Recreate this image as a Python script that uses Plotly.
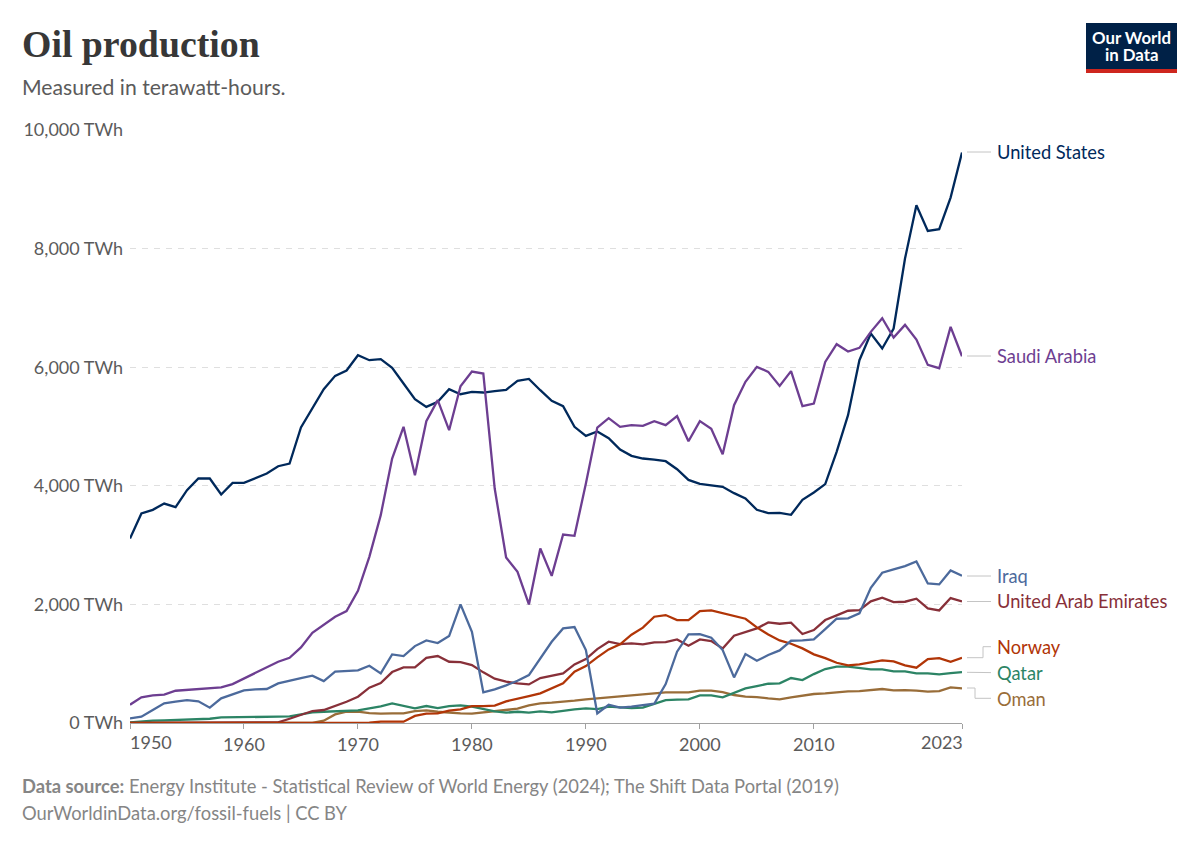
import plotly.graph_objects as go

# Data (TWh per year)

years = list(range(1950, 2024))

united_states = [
    3111, 3533, 3595, 3701, 3640, 3926, 4123, 4123, 3853, 4050,
    4050, 4123, 4207, 4330, 4376, 4983, 5303, 5629, 5854, 5944,
    6202, 6118, 6135, 5989, 5725, 5460, 5331, 5415, 5629, 5545,
    5584, 5573, 5595, 5618, 5770, 5803, 5612, 5432, 5342, 4994,
    4842, 4915, 4803, 4612, 4505, 4460, 4443, 4415, 4280, 4100,
    4033, 4005, 3983, 3876, 3786, 3595, 3539, 3544, 3511, 3764,
    3888, 4028, 4573, 5191, 6118, 6568, 6315, 6652, 7832, 8731,
    8299, 8327, 8861, 9619,
]
saudi_arabia = [
    308, 432, 466, 477, 544, 556, 573, 584, 600, 656,
    752, 848, 943, 1033, 1100, 1275, 1522, 1652, 1792, 1888,
    2230, 2802, 3505, 4460, 4994, 4179, 5090, 5444, 4938, 5680,
    5927, 5893, 3954, 2791, 2549, 2000, 2943, 2482, 3179, 3156,
    4039, 4983, 5140, 4994, 5022, 5011, 5090, 5022, 5174, 4752,
    5090, 4960, 4533, 5359, 5753, 6006, 5921, 5685, 5933, 5342,
    5387, 6090, 6388, 6264, 6326, 6596, 6826, 6500, 6714, 6466,
    6039, 5983, 6680, 6185,
]
iraq = [
    78, 106, 218, 331, 359, 387, 365, 258, 415, 483,
    550, 567, 573, 668, 719, 758, 797, 707, 865, 870,
    887, 966, 837, 1157, 1129, 1297, 1393, 1348, 1466, 2000,
    1539, 516, 567, 634, 713, 809, 1090, 1370, 1595, 1618,
    1230, 162, 308, 258, 275, 297, 325, 657, 1202, 1494,
    1500, 1438, 1230, 769, 1163, 1050, 1146, 1224, 1387, 1393,
    1410, 1584, 1758, 1764, 1848, 2281, 2534, 2590, 2646, 2725,
    2354, 2337, 2573, 2483,
]
uae = [
    0, 0, 0, 0, 0, 0, 0, 0, 0, 0,
    0, 0, 0, 11, 72, 140, 202, 219, 286, 359,
    443, 595, 674, 859, 938, 938, 1100, 1129, 1033, 1028,
    977, 854, 747, 697, 668, 651, 758, 792, 837, 988,
    1078, 1247, 1371, 1331, 1342, 1326, 1359, 1365, 1410, 1303,
    1410, 1382, 1258, 1472, 1534, 1595, 1697, 1674, 1691, 1500,
    1567, 1736, 1815, 1893, 1904, 2051, 2112, 2039, 2045, 2096,
    1933, 1899, 2107, 2051,
]
norway = [
    0, 0, 0, 0, 0, 0, 0, 0, 0, 0,
    0, 0, 0, 0, 0, 0, 0, 0, 0, 0,
    0, 6, 22, 22, 22, 120, 157, 162, 207, 230,
    286, 286, 292, 365, 415, 455, 500, 584, 668, 865,
    960, 1106, 1241, 1326, 1489, 1607, 1792, 1820, 1736, 1736,
    1888, 1899, 1848, 1798, 1758, 1612, 1494, 1393, 1337, 1258,
    1157, 1095, 1016, 972, 989, 1022, 1056, 1039, 972, 932,
    1078, 1095, 1033, 1101,
]
qatar = [
    11, 28, 39, 44, 50, 61, 67, 72, 95, 95,
    95, 100, 100, 106, 112, 145, 179, 190, 196, 207,
    213, 247, 280, 331, 292, 247, 286, 252, 286, 297,
    275, 235, 196, 174, 190, 174, 196, 179, 207, 230,
    247, 235, 275, 258, 252, 258, 320, 387, 393, 398,
    466, 466, 432, 511, 584, 623, 662, 668, 758, 724,
    825, 910, 949, 949, 927, 904, 904, 870, 870, 837,
    837, 820, 842, 859,
]
oman = [
    0, 0, 0, 0, 0, 0, 0, 0, 0, 0,
    0, 0, 0, 0, 0, 0, 0, 39, 145, 190,
    190, 168, 157, 162, 162, 202, 213, 190, 174, 162,
    157, 179, 196, 218, 241, 297, 331, 342, 365, 376,
    398, 415, 432, 449, 466, 494, 511, 517, 517, 517,
    545, 545, 522, 472, 444, 438, 416, 399, 433, 466,
    489, 500, 522, 534, 539, 562, 573, 551, 556, 545,
    528, 539, 601, 584,
]

y_ticks = [0, 2000, 4000, 6000, 8000, 10000]
y_tick_labels = ["0 TWh", "2,000 TWh", "4,000 TWh", "6,000 TWh", "8,000 TWh", "10,000 TWh"]
x_ticks = [1950, 1960, 1970, 1980, 1990, 2000, 2010, 2023]
x_tick_labels = ["", "1960", "1970", "1980", "1990", "2000", "2010", ""]

# Plot area in page pixels

WIDTH, HEIGHT = 1200, 847
LEFT, RIGHT, TOP, BOTTOM = 130, 962, 130, 723

TEXT_GREY = "#5b5b5b"
FOOT_GREY = "#858585"


def px_x(x):
    return (x - LEFT) / (RIGHT - LEFT)


def px_y(y):
    return (BOTTOM - y) / (BOTTOM - TOP)


def text_at(x, y, text, size, color, font="Lato", xanchor="left"):
    return dict(x=px_x(x), y=px_y(y), xref="paper", yref="paper", text=text, showarrow=False,
                xanchor=xanchor, yanchor="middle", align=xanchor, borderpad=0, borderwidth=0,
                font=dict(family=font, size=size, color=color))


def connector(points):
    path = "M " + " L ".join(f"{px_x(x)},{px_y(y)}" for x, y in points)
    return dict(type="path", path=path, xref="paper", yref="paper",
                line=dict(color="#c4c4c4", width=1))


# Back to front, the same stacking as the picture
series = [
    ("United States", united_states, "#00295b"),
    ("Saudi Arabia", saudi_arabia, "#6d3e91"),
    ("Oman", oman, "#996d39"),
    ("Qatar", qatar, "#2c8465"),
    ("United Arab Emirates", uae, "#883039"),
    ("Norway", norway, "#b13507"),
    ("Iraq", iraq, "#4c6a9c"),
]

fig = go.Figure()
for name, values, color in series:
    fig.add_trace(go.Scatter(x=years, y=values, name=name, mode="lines", cliponaxis=False,
                             line=dict(color=color, width=2.3)))

annotations = [
    text_at(22, 44, "<b>Oil production</b>", 37.8, "#373737", font="Liberation Serif"),
    text_at(22, 87, "Measured in terawatt-hours.", 21.2, TEXT_GREY),
    text_at(130, 741.5, "1950", 18, TEXT_GREY),
    text_at(963, 741.5, "2023", 18, TEXT_GREY, xanchor="right"),
    text_at(22, 786, "<b>Data source:</b> Energy Institute - Statistical Review of World Energy (2024); The Shift Data Portal (2019)", 18.35, FOOT_GREY),
    text_at(22, 813, "OurWorldinData.org/fossil-fuels | CC BY", 18.35, FOOT_GREY),
    text_at(1131.5, 37, "<b>Our World</b>", 16.8, "white", xanchor="center"),
    text_at(1131.5, 54.5, "<b>in Data</b>", 16.8, "white", xanchor="center"),
    text_at(997, 152, "United States", 18.3, "#00295b"),
    text_at(997, 356, "Saudi Arabia", 18.3, "#6d3e91"),
    text_at(997, 576, "Iraq", 18.3, "#4c6a9c"),
    text_at(997, 601, "United Arab Emirates", 18.3, "#883039"),
    text_at(997, 647, "Norway", 18.3, "#b13507"),
    text_at(997, 673, "Qatar", 18.3, "#2c8465"),
    text_at(997, 699, "Oman", 18.3, "#996d39"),
]

shapes = [
    connector([(967, 152), (991, 152)]),
    connector([(967, 356), (991, 356)]),
    connector([(967, 576), (991, 576)]),
    connector([(967, 601.5), (991, 601.5)]),
    connector([(967, 657.7), (983, 657.7), (983, 646.7), (991, 646.7)]),
    connector([(967, 672.3), (991, 672.6)]),
    connector([(967, 688), (975, 688), (975, 698.3), (991, 698.3)]),
    # logo
    dict(type="rect", xref="paper", yref="paper", x0=px_x(1086), x1=px_x(1177), y0=px_y(73), y1=px_y(23),
         fillcolor="#002147", line=dict(width=0), layer="below"),
    dict(type="rect", xref="paper", yref="paper", x0=px_x(1086), x1=px_x(1177), y0=px_y(73), y1=px_y(69),
         fillcolor="#ce261e", line=dict(width=0), layer="below"),
]

fig.update_layout(
    width=WIDTH,
    height=HEIGHT,
    margin=dict(l=LEFT, r=WIDTH - RIGHT, t=TOP, b=HEIGHT - BOTTOM, autoexpand=False),
    plot_bgcolor="white",
    paper_bgcolor="white",
    showlegend=False,
    font=dict(family="Lato", color=TEXT_GREY, size=18),
    annotations=annotations,
    shapes=shapes,
)
fig.update_xaxes(range=[1950, 2023], tickmode="array", tickvals=x_ticks, ticktext=x_tick_labels,
                 showgrid=False, zeroline=False, showline=True, linecolor="#a1a1a1", linewidth=1,
                 ticks="outside", ticklen=5, tickcolor="#a1a1a1", tickangle=0)
fig.update_yaxes(range=[0, 10000], tickmode="array", tickvals=y_ticks, ticktext=y_tick_labels,
                 showgrid=True, gridcolor="#dfdfdf", griddash="6px,6px", gridwidth=1.3, zeroline=False,
                 showline=False, ticks="", ticklabelstandoff=6)

fig.write_html("out.html", config=dict(displayModeBar=False),
               post_script="document.body.style.margin='0';")
